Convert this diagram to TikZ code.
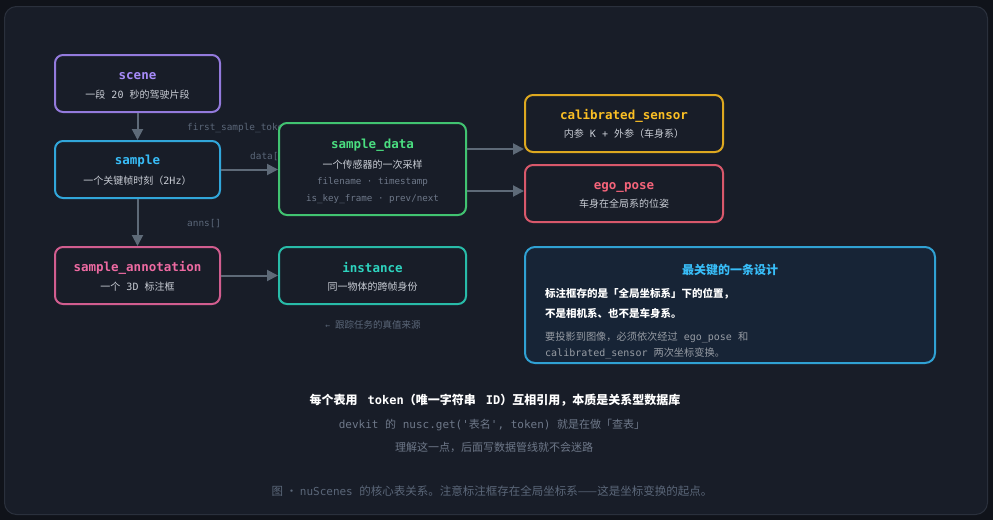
\documentclass[tikz,border=0pt]{standalone}
\usepackage{fontspec}
\setmainfont{Noto Sans CJK SC}
\setmonofont{DejaVu Sans Mono}
\usetikzlibrary{arrows.meta,positioning}

\definecolor{pagebg}{HTML}{10131A}
\definecolor{panel}{HTML}{181D28}
\definecolor{panelline}{HTML}{2A303C}
\definecolor{boxfill}{HTML}{181D28}
\definecolor{keyfill}{HTML}{172436}
\definecolor{arrgray}{HTML}{5E6A78}
\definecolor{lblgray}{HTML}{5B6779}
\definecolor{subtxt}{HTML}{C9CDD5}
\definecolor{dimtxt}{HTML}{6E7889}
\definecolor{cviolet}{HTML}{A78BFA}
\definecolor{csky}{HTML}{38BDF8}
\definecolor{cpink}{HTML}{EE6AA2}
\definecolor{cgreen}{HTML}{4ADE80}
\definecolor{cteal}{HTML}{2DD4BF}
\definecolor{camber}{HTML}{FBBF24}
\definecolor{crose}{HTML}{F5647A}

\newcommand{\monotxt}[1]{{\ttfamily\fontsize{10}{12}\selectfont #1}}
\newcommand{\msp}{{\ttfamily\fontsize{10}{12}\selectfont\ }}

\tikzset{
  box/.style={draw=#1!88!black, fill=boxfill, line width=2pt, rounded corners=8pt},
  ttl/.style={font=\ttfamily\bfseries\fontsize{12.5}{15}\selectfont, text=#1, inner sep=0pt},
  sub/.style={font=\fontsize{10}{12}\selectfont, text=subtxt, inner sep=0pt},
  dim/.style={font=\ttfamily\fontsize{9.2}{12}\selectfont, text=dimtxt, inner sep=0pt},
  lbl/.style={font=\ttfamily\fontsize{9.4}{12}\selectfont, text=lblgray, inner sep=0pt, anchor=west},
  note/.style={anchor=west, inner sep=0pt},
  arr/.style={draw=arrgray, line width=2pt, -{Triangle[length=11pt,width=11pt]}},
}

\begin{document}
\begin{tikzpicture}[x=1pt,y=-1pt]
\fill[pagebg] (0,0) rectangle (993,520);
\useasboundingbox (0,0) rectangle (993,520);
\filldraw[fill=panel, draw=panelline, line width=1pt, rounded corners=12pt] (4.5,6.5) rectangle (987.5,514.5);

% connector labels (boxes drawn on top)
\node[lbl] (l-first) at (187,128) {first\_sample\_token};
\node[lbl] (l-data) at (250,157) {data[]};
\node[lbl] (l-anns) at (187,224) {anns[]};

% tables
\node[box=cviolet, minimum width=165pt, minimum height=57pt] (scene) at (137.5,83.5) {};
\node[box=csky, minimum width=165pt, minimum height=57pt] (sample) at (137.5,169.5) {};
\node[box=cpink, minimum width=165pt, minimum height=57pt] (ann) at (137.5,275.5) {};
\node[box=cgreen, minimum width=187pt, minimum height=92pt] (sd) at (372.5,169) {};
\node[box=cteal, minimum width=187pt, minimum height=57pt] (inst) at (372.5,275.5) {};
\node[box=camber, minimum width=198pt, minimum height=57pt] (cs) at (624,123.5) {};
\node[box=crose, minimum width=198pt, minimum height=57pt] (ego) at (624,193.5) {};

\node[ttl=cviolet] (scene-t) at ([yshift=7pt]scene.center) {scene};
\node[sub] (scene-s) at ([yshift=-11pt]scene.center) {一段\msp\monotxt{20}\msp 秒的驾驶片段};
\node[ttl=csky] (sample-t) at ([yshift=8pt]sample.center) {sample};
\node[sub] (sample-s) at ([yshift=-11pt]sample.center) {一个关键帧时刻（\monotxt{2Hz}）};
\node[ttl=cpink] (ann-t) at ([yshift=8pt]ann.center) {sample\_annotation};
\node[sub] (ann-s) at ([yshift=-11pt]ann.center) {一个\msp\monotxt{3D}\msp 标注框};
\node[ttl=cgreen] (sd-t) at ([yshift=23.5pt]sd.center) {sample\_data};
\node[sub] (sd-s) at ([yshift=4.5pt]sd.center) {一个传感器的一次采样};
\node[dim] (sd-d1) at ([yshift=-13pt]sd.center) {filename · timestamp};
\node[dim] (sd-d2) at ([yshift=-30pt]sd.center) {is\_key\_frame · prev/next};
\node[ttl=cteal] (inst-t) at ([yshift=8pt]inst.center) {instance};
\node[sub] (inst-s) at ([yshift=-11pt]inst.center) {同一物体的跨帧身份};
\node[ttl=camber] (cs-t) at ([yshift=8pt]cs.center) {calibrated\_sensor};
\node[sub] (cs-s) at ([yshift=-10pt]cs.center) {内参\msp\monotxt{K + }外参（车身系）};
\node[ttl=crose] (ego-t) at ([yshift=6pt]ego.center) {ego\_pose};
\node[sub] (ego-s) at ([yshift=-10pt]ego.center) {车身在全局系的位姿};

\node[font=\fontsize{9.5}{12}\selectfont, text=lblgray] (track) at (373,325) {{\ttfamily\fontsize{8}{10}\selectfont ←\ }跟踪任务的真值来源};

% connectors
\draw[arr] (scene) -- (sample);
\draw[arr] (sample) -- (ann);
\draw[arr] (sample.east) -- (sample.east -| sd.west);
\draw[arr] (ann) -- (inst);
\draw[arr] ([yshift=20pt]sd.east) -- ([yshift=20pt]sd.east -| cs.west);
\draw[arr] ([yshift=-22pt]sd.east) -- ([yshift=-22pt]sd.east -| ego.west);

% key design note
\node[draw=csky!85!black, fill=keyfill, line width=2pt, rounded corners=10pt,
      minimum width=410pt, minimum height=116pt] (key) at (730,305) {};
\node[font=\bfseries\fontsize{12}{14}\selectfont, text=csky] (key-t) at (730,269.5) {最关键的一条设计};
\node[note, font=\bfseries\fontsize{10.5}{12}\selectfont, text=white] (key-1) at (545,293.5) {标注框存的是「全局坐标系」下的位置，};
\node[note, font=\bfseries\fontsize{10.5}{12}\selectfont, text=white] (key-2) at (545,313.5) {不是相机系、也不是车身系。};
\node[note, font=\fontsize{10.2}{12}\selectfont, text=subtxt!72!panel] (key-3) at (545,337.5) {要投影到图像，必须依次经过\msp\monotxt{ego\_pose}\msp 和};
\node[note, font=\fontsize{10.2}{12}\selectfont, text=subtxt!72!panel] (key-4) at (545,353.5) {\monotxt{calibrated\_sensor}\msp 两次坐标变换。};

% summary
\node[font=\bfseries\fontsize{12}{14}\selectfont, text=white] (sum-1) at (495,400.5) {每个表用 {\ttfamily\ token}（唯一字符串 {\ttfamily\ ID}）互相引用，本质是关系型数据库};
\node[font=\fontsize{11}{13}\selectfont, text=dimtxt] (sum-2) at (492,425.5) {{\ttfamily\fontsize{11}{13}\selectfont devkit\ }的{\ttfamily\fontsize{11}{13}\selectfont\ nusc.get('}表名{\ttfamily\fontsize{11}{13}\selectfont ', token)\ }就是在做「查表」};
\node[font=\fontsize{11}{13}\selectfont, text=dimtxt] (sum-3) at (494,447.5) {理解这一点，后面写数据管线就不会迷路};
\node[font=\fontsize{11.5}{13}\selectfont, text=lblgray] (caption) at (492,491.5) {图 · {\ttfamily\fontsize{11}{13}\selectfont nuScenes\ }的核心表关系。注意标注框存在全局坐标系——这是坐标变换的起点。};
\end{tikzpicture}
\end{document}
